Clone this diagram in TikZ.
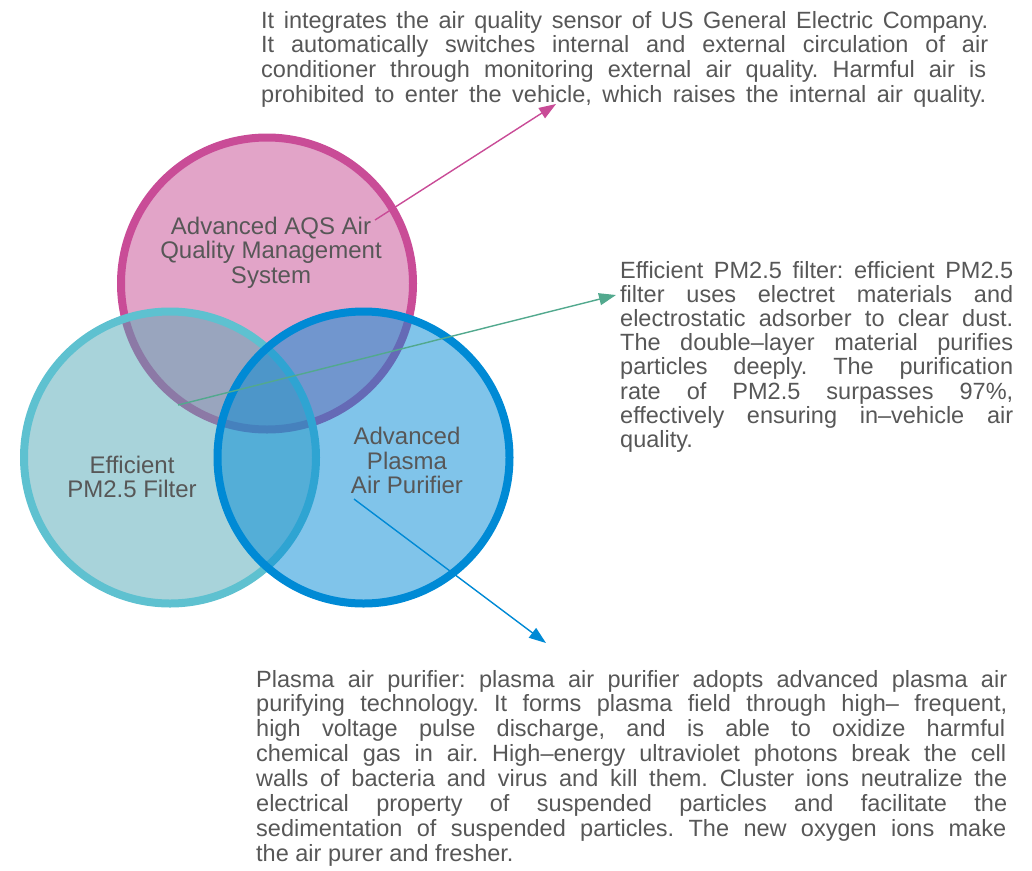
\documentclass[tikz,border=0pt]{standalone}
\usepackage{fontspec}
\setmainfont{Liberation Sans}
\usetikzlibrary{arrows.meta}
\definecolor{txt}{HTML}{575757}
\definecolor{pinkS}{HTML}{C94C97}
\definecolor{pinkF}{HTML}{E2A4C8}
\definecolor{tealS}{HTML}{5EC1D0}
\definecolor{tealF}{HTML}{51A7B5}
\definecolor{blueS}{HTML}{008AD5}
\definecolor{blueF}{HTML}{0289D5}
\definecolor{greenA}{HTML}{52A98E}
% justified line: width, text
\newcommand{\jl}[2]{\makebox[#1][s]{#2}}
\tikzset{
  venn/.style={circle, minimum size=292pt, inner sep=0pt, line width=8pt},
  clabel/.style={text=txt, font=\fontsize{24}{24.5}\selectfont, inner sep=0pt, anchor=base},
  pline/.style={text=txt, font=\fontsize{23.5}{24.5}\selectfont\frenchspacing, inner sep=0pt, anchor=base west},
  callout/.style={line width=1.4pt, -{Triangle[length=17pt,width=12pt]}},
}
\begin{document}
\begin{tikzpicture}[x=1pt,y=-1pt]
\useasboundingbox (0,0) rectangle (1032,870);
% circles
\node[venn, draw=pinkS, fill=pinkF] (aqs) at (267,283.5) {};
\node[venn, draw=tealS, fill=tealF, fill opacity=0.5, draw opacity=1] (pm) at (170,457.5) {};
\node[venn, draw=blueS, fill=blueF, fill opacity=0.5, draw opacity=1] (plasma) at (363.5,457.5) {};
% circle labels
\node[clabel] (aqs1) at (271,234) {Advanced AQS Air};
\node[clabel] (aqs2) at (271,258.5) {Quality Management};
\node[clabel] (aqs3) at (271,283) {System};
\node[clabel] (pm1) at (132,473) {Efficient};
\node[clabel] (pm2) at (132,497) {PM2.5 Filter};
\node[clabel] (pl1) at (407,444) {Advanced};
\node[clabel] (pl2) at (407,469) {Plasma};
\node[clabel] (pl3) at (407,493) {Air Purifier};
% top paragraph
\node[pline] (t1) at (261,28) {\jl{727pt}{It integrates the air quality sensor of US General Electric Company.}};
\node[pline] (t2) at (261,52.7) {\jl{727pt}{It automatically switches internal and external circulation of air}};
\node[pline] (t3) at (261,77.4) {\jl{725pt}{conditioner through monitoring external air quality. Harmful air is}};
\node[pline] (t4) at (261,102) {\jl{725pt}{prohibited to enter the vehicle, which raises the internal air quality.}};
% right paragraph
\node[pline] (r1) at (620,278) {\jl{393pt}{Efficient PM2.5 filter: efficient PM2.5}};
\node[pline] (r2) at (620,302.2) {\jl{393pt}{filter uses electret materials and}};
\node[pline] (r3) at (620,326.4) {\jl{393pt}{electrostatic adsorber to clear dust.}};
\node[pline] (r4) at (620,350.6) {\jl{393pt}{The double–layer material purifies}};
\node[pline] (r5) at (620,374.8) {\jl{393pt}{particles deeply. The purification}};
\node[pline] (r6) at (620,399) {\jl{393pt}{rate of PM2.5 surpasses 97\%,}};
\node[pline] (r7) at (620,423.2) {\jl{393pt}{effectively ensuring in–vehicle air}};
\node[pline] (r8) at (620,447.4) {quality.};
% bottom paragraph
\node[pline] (b1) at (256,687) {\jl{751pt}{Plasma air purifier: plasma air purifier adopts advanced plasma air}};
\node[pline] (b2) at (256,711.9) {\jl{751pt}{purifying technology. It forms plasma field through high– frequent,}};
\node[pline] (b3) at (256,736.8) {\jl{749pt}{high voltage pulse discharge, and is able to oxidize harmful}};
\node[pline] (b4) at (256,761.7) {\jl{750pt}{chemical gas in air. High–energy ultraviolet photons break the cell}};
\node[pline] (b5) at (256,786.6) {\jl{751pt}{walls of bacteria and virus and kill them. Cluster ions neutralize the}};
\node[pline] (b6) at (256,811.5) {\jl{751pt}{electrical property of suspended particles and facilitate the}};
\node[pline] (b7) at (256,836.4) {\jl{750pt}{sedimentation of suspended particles. The new oxygen ions make}};
\node[pline] (b8) at (256,861.3) {the air purer and fresher.};
% callouts
\coordinate (aqsS) at (375,220);
\coordinate (aqsE) at (556,104);
\coordinate (pmS) at (178,405);
\coordinate (pmE) at (616,295);
\coordinate (plS) at (354,499);
\coordinate (plE) at (546,643);
\draw[callout, draw=pinkS, fill=pinkS] (aqsS) -- (aqsE);
\draw[callout, draw=greenA, fill=greenA] (pmS) -- (pmE);
\draw[callout, draw=blueS, fill=blueS] (plS) -- (plE);
\end{tikzpicture}
\end{document}
